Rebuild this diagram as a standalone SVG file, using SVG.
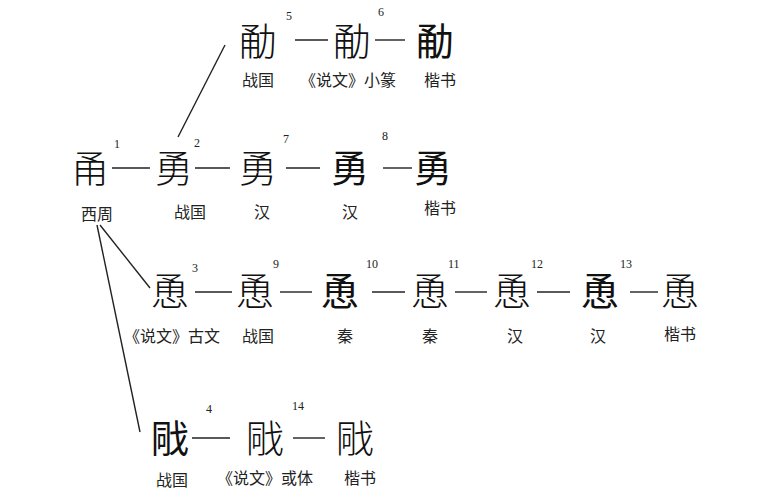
<svg xmlns="http://www.w3.org/2000/svg" width="758" height="502" viewBox="0 0 758 502">
<style>
.g{font-family:"Noto Sans CJK SC",sans-serif;font-size:38px;fill:#111;text-anchor:middle}
.gs{font-family:"Noto Sans CJK SC",serif;font-size:38px;fill:#111;text-anchor:middle;font-weight:300}
.l{font-family:"Noto Sans CJK SC",sans-serif;font-size:16px;fill:#222;text-anchor:middle}
.n{font-family:"Liberation Serif",serif;font-size:12px;fill:#222}
.c line{stroke:#222;stroke-width:1.4}
</style>
<rect width="758" height="502" fill="#fff"/>
<g class="c">
<line x1="295" y1="40" x2="328" y2="40"/><line x1="375" y1="40" x2="405" y2="40"/>
<line x1="112" y1="168" x2="150" y2="168"/><line x1="195" y1="168" x2="230" y2="168"/><line x1="286" y1="168" x2="320" y2="168"/><line x1="383" y1="168" x2="412" y2="168"/>
<line x1="195" y1="292" x2="232" y2="292"/><line x1="280" y1="292" x2="312" y2="292"/><line x1="372" y1="292" x2="405" y2="292"/><line x1="455" y1="292" x2="487" y2="292"/><line x1="537" y1="292" x2="570" y2="292"/><line x1="630" y1="292" x2="658" y2="292"/>
<line x1="192" y1="438" x2="230" y2="438"/><line x1="293" y1="438" x2="325" y2="438"/>
<line x1="178" y1="137" x2="225" y2="45"/>
<line x1="100" y1="225" x2="150" y2="288"/>
<line x1="97" y1="225" x2="140" y2="432"/>
</g>
<g id="r1">
<text class="gs" x="258" y="55">勈</text><text class="n" x="286" y="20">5</text>
<text class="gs" x="352" y="55">勈</text><text class="n" x="378" y="16">6</text>
<text class="g" x="435" y="55">勈</text>
<text class="l" x="258" y="86">战国</text><text class="l" x="348" y="86">《说文》小篆</text><text class="l" x="440" y="86">楷书</text>
</g>
<g id="r2">
<text class="gs" x="90" y="182">甬</text><text class="n" x="114" y="148">1</text>
<text class="gs" x="174" y="182">勇</text><text class="n" x="194" y="147">2</text>
<text class="gs" x="258" y="182">勇</text><text class="n" x="283" y="143">7</text>
<text class="g" x="350" y="182">勇</text><text class="n" x="382" y="140">8</text>
<text class="g" x="433" y="182">勇</text>
<text class="l" x="97" y="220">西周</text><text class="l" x="190" y="218">战国</text><text class="l" x="262" y="218">汉</text><text class="l" x="350" y="218">汉</text><text class="l" x="440" y="214">楷书</text>
</g>
<g id="r3">
<text class="gs" x="170" y="305">恿</text><text class="n" x="192" y="272">3</text>
<text class="gs" x="255" y="305">恿</text><text class="n" x="273" y="268">9</text>
<text class="g" x="340" y="305">恿</text><text class="n" x="366" y="268">10</text>
<text class="gs" x="430" y="305">恿</text><text class="n" x="448" y="268">11</text>
<text class="gs" x="512" y="305">恿</text><text class="n" x="531" y="268">12</text>
<text class="g" x="600" y="305">恿</text><text class="n" x="620" y="268">13</text>
<text class="gs" x="680" y="305">恿</text>
<text class="l" x="172" y="342">《说文》古文</text><text class="l" x="258" y="342">战国</text><text class="l" x="345" y="342">秦</text><text class="l" x="430" y="342">秦</text><text class="l" x="515" y="342">汉</text><text class="l" x="598" y="342">汉</text><text class="l" x="680" y="340">楷书</text>
</g>
<g id="r4">
<text class="g" x="170" y="452">戙</text><text class="n" x="206" y="413">4</text>
<text class="gs" x="265" y="452">戙</text><text class="n" x="292" y="410">14</text>
<text class="gs" x="355" y="452">戙</text>
<text class="l" x="172" y="486">战国</text><text class="l" x="265" y="484">《说文》或体</text><text class="l" x="360" y="484">楷书</text>
</g>
</svg>
